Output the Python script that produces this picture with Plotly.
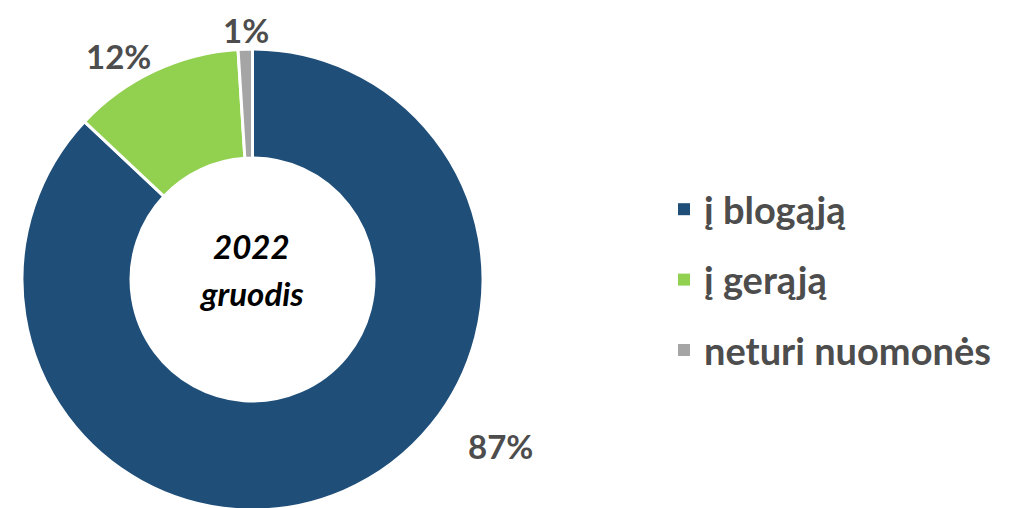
import plotly.graph_objects as go

categories = ["į blogąją", "į gerąją", "neturi nuomonės"]
values = [87, 12, 1]
colors = ["#1F4E79", "#92D050", "#A5A5A5"]
center_lines = ["2022", "gruodis"]

W, H = 1016, 508
FONT = "Lato"
LABEL_COLOR = "#4d4d4d"

fig = go.Figure()

fig.add_trace(go.Pie(
    labels=categories,
    values=values,
    hole=0.527,
    sort=False,
    direction="clockwise",
    rotation=0,
    marker=dict(colors=colors, line=dict(color="white", width=3)),
    textinfo="none",
    hoverinfo="label+percent",
    showlegend=False,
    domain=dict(x=[14 / W, 475 / W], y=[6 / H, 467 / H]),
))

# legend entries (one group each so the spacing can be set)
for i, (cat, col) in enumerate(zip(categories, colors)):
    fig.add_trace(go.Scatter(
        x=[None], y=[None], mode="markers", name=cat,
        marker=dict(symbol="square", size=14, color=col),
        legendgroup=f"g{i}", showlegend=True, hoverinfo="skip",
    ))

# percentage labels
label_pos = [(492, 438), (110, 48), (238, 22)]
for v, (px, py) in zip(values, label_pos):
    fig.add_annotation(
        x=px / W, y=1 - py / H, xref="paper", yref="paper",
        text=f"{v}%", showarrow=False,
        font=dict(family=FONT, size=33, color=LABEL_COLOR, weight="bold"),
        xanchor="center", yanchor="middle",
    )

# center text
for line, py in zip(center_lines, [238, 285]):
    fig.add_annotation(
        x=243 / W, y=1 - py / H, xref="paper", yref="paper",
        text=line, showarrow=False,
        font=dict(family=FONT, size=33, color="#000000", weight="bold", style="italic"),
        xanchor="center", yanchor="middle",
    )

fig.update_layout(
    width=W, height=H,
    margin=dict(l=0, r=0, t=0, b=0),
    paper_bgcolor="white", plot_bgcolor="white",
    xaxis=dict(visible=False), yaxis=dict(visible=False),
    legend=dict(
        x=656 / W, y=1 - 170 / H, xanchor="left", yanchor="top",
        font=dict(family=FONT, size=38, color=LABEL_COLOR, weight="bold"),
        tracegroupgap=18, itemsizing="constant",
        bgcolor="rgba(0,0,0,0)",
    ),
    font=dict(family=FONT),
)

fig.write_html("out.html")
